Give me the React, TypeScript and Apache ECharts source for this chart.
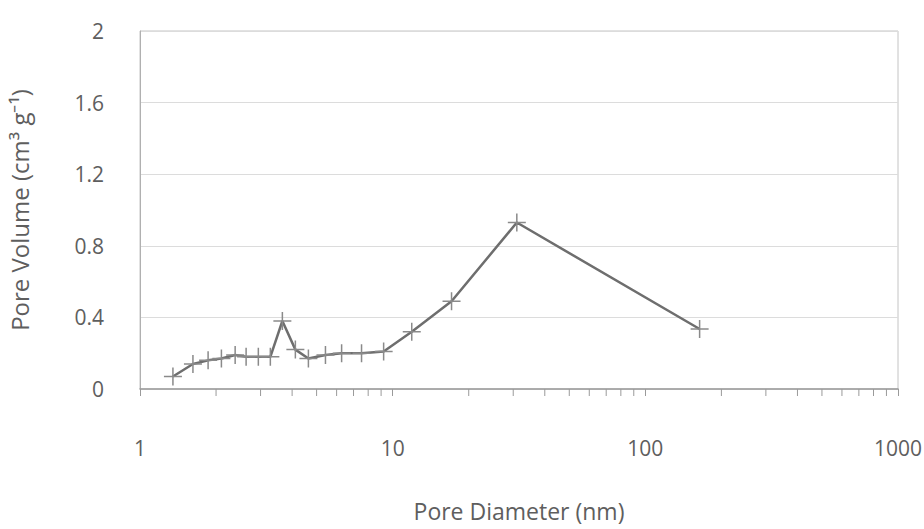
import React, { useEffect, useRef } from "react";
import * as echarts from "echarts";

const poreDiameter = [1.35, 1.62, 1.86, 2.1, 2.38, 2.63, 2.94, 3.28, 3.66, 4.12, 4.64, 5.42, 6.28, 7.53, 9.21, 11.9, 17.1, 31.0, 164];
const poreVolume = [0.07, 0.14, 0.16, 0.17, 0.19, 0.18, 0.18, 0.18, 0.38, 0.22, 0.17, 0.19, 0.2, 0.2, 0.21, 0.32, 0.49, 0.93, 0.335];
const minorTickValues = [2, 3, 4, 5, 6, 7, 8, 9, 20, 30, 40, 50, 60, 70, 80, 90, 200, 300, 400, 500, 600, 700, 800, 900];
const yTicks = [0, 0.4, 0.8, 1.2, 1.6, 2];

const FONT = "'Open Sans', sans-serif";
const TEXT = "#5e5e5e";

export default function App() {
  const ref = useRef<HTMLDivElement>(null);
  useEffect(() => {
    if (!ref.current) return;
    const chart = echarts.init(ref.current, null, { renderer: "svg" });
    const plus = "path://M0,8 L16,8 M8,0 L8,16";
    chart.setOption({
      animation: false,
      backgroundColor: "#fff",
      grid: {
        left: 140,
        right: 26,
        top: 31,
        bottom: 140,
        containLabel: false,
        outerBoundsMode: "none",
        show: true,
        borderColor: "#c4c4c4",
        borderWidth: 1,
        backgroundColor: "transparent",
      },
      xAxis: {
        type: "log",
        logBase: 10,
        min: 1,
        max: 1000,
        name: "Pore Diameter (nm)",
        nameLocation: "middle",
        nameGap: 109,
        nameTextStyle: { fontFamily: FONT, fontSize: 23, color: TEXT, lineHeight: 26 },
        axisLine: { show: true, lineStyle: { color: "#9a9a9a", width: 1.5 } },
        axisTick: { show: true, length: 7, lineStyle: { color: "#9a9a9a" } },
        axisLabel: {
          margin: 48,
          fontFamily: FONT,
          fontSize: 21,
          color: TEXT,
          formatter: (v: number) => String(Math.round(v)),
        },
        splitLine: { show: false },
      },
      yAxis: {
        type: "value",
        min: 0,
        max: 2,
        interval: 0.4,
        name: "Pore Volume (cm³ g⁻¹)",
        nameLocation: "middle",
        nameGap: 109,
        nameTextStyle: { fontFamily: FONT, fontSize: 24, color: TEXT },
        axisLine: { show: true, lineStyle: { color: "#b0b0b0" } },
        axisTick: { show: false },
        axisLabel: {
          margin: 36,
          fontFamily: FONT,
          fontSize: 21,
          color: TEXT,
          formatter: (v: number) => {
            const m = yTicks.find((t) => Math.abs(t - v) < 1e-6);
            return m === undefined ? "" : String(m);
          },
        },
        splitLine: { show: true, lineStyle: { color: "#dcdcdc", width: 1 } },
      },
      series: [
        {
          type: "line",
          data: poreDiameter.map((d, i) => [d, poreVolume[i]]),
          lineStyle: { color: "#6e6e6e", width: 2.5 },
          symbol: plus,
          symbolSize: 18,
          itemStyle: { color: "none", borderColor: "#8a8a8a", borderWidth: 1.5 },
          z: 3,
        },
        {
          type: "custom",
          clip: false,
          silent: true,
          data: minorTickValues.map((v) => [v, 0]),
          renderItem: (params: any, api: any) => {
            const p = api.coord([api.value(0), 0]);
            return {
              type: "line",
              shape: { x1: p[0], y1: p[1], x2: p[0], y2: p[1] + 7 },
              style: { stroke: "#9a9a9a", lineWidth: 1 },
            };
          },
          z: 1,
        },
      ],
    });
    return () => chart.dispose();
  }, []);
  return (
    <div
      ref={ref}
      style={{ position: "fixed", left: 0, top: 0, width: 924, height: 529 }}
    />
  );
}
